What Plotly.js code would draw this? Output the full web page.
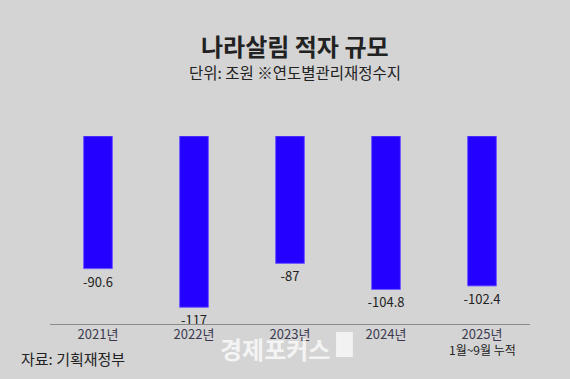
<!DOCTYPE html>
<html>
<head>
<meta charset="utf-8">
<script src="https://cdn.plot.ly/plotly-3.0.1.min.js"></script>
<style>
html,body{margin:0;padding:0;background:#d4d4d4;}
#chart{width:570px;height:379px;}
</style>
</head>
<body>
<div id="chart"></div>
<script>
const years = ['2021년', '2022년', '2023년', '2024년', '2025년'];
const deficits = [-90.6, -117, -87, -104.8, -102.4];
const labels = ['-90.6', '-117', '-87', '-104.8', '-102.4'];
const titleText = '나라살림 적자 규모';
const subtitleText = '단위: 조원 ※연도별관리재정수지';
const sourceText = '자료: 기획재정부';
const noteText = '1월~9월 누적';
const watermarkText = '경제포커스';

const FONT = '"Noto Sans CJK KR", "Noto Sans", sans-serif';

const trace = {
  type: 'bar',
  x: years,
  y: deficits,
  text: labels,
  textposition: 'outside',
  constraintext: 'none',
  cliponaxis: false,
  textfont: {family: FONT, size: 13, color: '#222222'},
  marker: {color: '#2400ff', line: {color: '#6f5cff', width: 1}},
  width: 0.3,
  hoverinfo: 'skip'
};

const layout = {
  width: 570,
  height: 379,
  paper_bgcolor: '#d4d4d4',
  plot_bgcolor: '#d4d4d4',
  margin: {l: 50, r: 40, t: 136, b: 55},
  showlegend: false,
  font: {family: FONT},
  xaxis: {
    type: 'category',
    range: [-0.5, 4.5],
    showline: true,
    linecolor: '#8a8a8a',
    linewidth: 1,
    ticks: '',
    showgrid: false,
    zeroline: false,
    ticklabelstandoff: -2,
    tickfont: {family: FONT, size: 13, color: '#3c3a52'},
    fixedrange: true
  },
  yaxis: {
    range: [-128.4, 0],
    visible: false,
    showgrid: false,
    zeroline: false,
    fixedrange: true
  },
  annotations: [
    {text: '<b>' + titleText + '</b>', xref: 'paper', yref: 'paper', x: 0.51, y: 1, yshift: 91,
     xanchor: 'center', yanchor: 'middle', showarrow: false,
     font: {family: FONT, size: 24, color: '#222222'}},
    {text: subtitleText, xref: 'paper', yref: 'paper', x: 0.51, y: 1, yshift: 64,
     xanchor: 'center', yanchor: 'middle', showarrow: false,
     font: {family: FONT, size: 15.5, color: '#222222'}},
    {text: noteText, xref: 'x', yref: 'paper', x: 4, y: 0, yshift: -25,
     xanchor: 'center', yanchor: 'middle', showarrow: false,
     font: {family: FONT, size: 12, color: '#222222'}},
    {text: sourceText, xref: 'paper', yref: 'paper', x: 0, xshift: -31, y: 0, yshift: -34,
     xanchor: 'left', yanchor: 'middle', showarrow: false,
     font: {family: FONT, size: 15, color: '#222222'}},
    {text: '<b>' + watermarkText + '</b>', xref: 'paper', yref: 'paper', x: 0.35, y: 0, yshift: -24,
     xanchor: 'left', yanchor: 'middle', showarrow: false,
     font: {family: FONT, size: 24, color: 'rgba(255,255,255,0.75)'}}
  ],
  shapes: [
    {type: 'rect', xref: 'paper', yref: 'paper', x0: 0.596, x1: 0.631, y0: -0.1755, y1: -0.0426,
     line: {width: 0}, fillcolor: 'rgba(255,255,255,0.7)', layer: 'above'}
  ]
};

Plotly.newPlot('chart', [trace], layout, {displayModeBar: false, staticPlot: true});
</script>
</body>
</html>
